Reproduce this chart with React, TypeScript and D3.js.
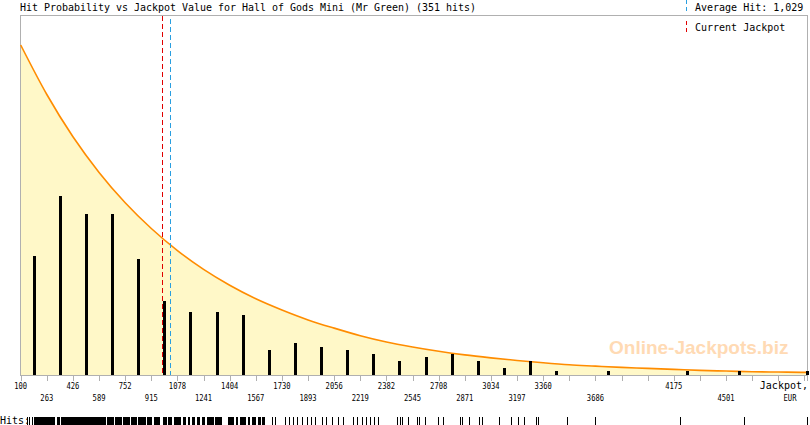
import React from 'react';
import * as d3 from 'd3';

// hits per jackpot bin (bin middle in EUR)
const binMids = [181, 344, 507, 670, 833, 996, 1159, 1322, 1485, 1648, 1811, 1974, 2137, 2300, 2463, 2626, 2789, 2952, 3115, 3278, 3441, 3767, 4256, 4582, 5003];
const binHits = [34, 51, 46, 46, 33, 21, 18, 18, 17, 7, 9, 8, 7, 6, 4, 5, 6, 4, 2, 4, 1, 1, 1, 1, 1];

// axis ticks
const tickValues = [100, 263, 426, 589, 752, 915, 1078, 1241, 1404, 1567, 1730, 1893, 2056, 2219, 2382, 2545, 2708, 2871, 3034, 3197, 3360, 3523, 3686, 3849, 4012, 4175, 4338, 4501, 4664, 4827, 4990];
const tickLabels = [100, 263, 426, 589, 752, 915, 1078, 1241, 1404, 1567, 1730, 1893, 2056, 2219, 2382, 2545, 2708, 2871, 3034, 3197, 3360, 3686, 4175, 4501];

// probability curve, read at the tick values
const curveX = [100, 263, 426, 589, 752, 915, 1078, 1241, 1404, 1567, 1730, 1893, 2056, 2219, 2382, 2545, 2708, 2871, 3034, 3197, 3360, 3523, 3686, 3849, 4012, 4175, 4338, 4501, 4664, 4827, 4990, 5006];
const curveP = [1.0, 0.85, 0.722, 0.614, 0.522, 0.444, 0.377, 0.32, 0.272, 0.231, 0.197, 0.167, 0.142, 0.119, 0.1, 0.085, 0.072, 0.061, 0.052, 0.044, 0.037, 0.031, 0.027, 0.023, 0.02, 0.017, 0.014, 0.012, 0.01, 0.009, 0.008, 0.0078];

// single hits and dense runs of hits on the rug
const rugHits = [139, 154, 169, 1668, 1687, 1749, 1774, 1799, 1824, 1855, 1886, 1911, 1936, 1980, 2005, 2042, 2080, 2111, 2173, 2198, 2229, 2254, 2279, 2304, 2329, 2449, 2468, 2480, 2518, 2574, 2586, 2624, 2705, 2736, 2842, 2854, 2898, 2960, 2979, 3085, 3160, 3204, 3242, 3317, 3330, 3511, 3686, 4216, 4616, 5003];
const rugRuns: [number, number][] = [
  [185, 314], [325, 341], [351, 632], [640, 682], [688, 732], [738, 782], [788, 826],
  [834, 882], [888, 920], [932, 969], [988, 1013], [1021, 1044], [1057, 1100], [1113, 1132],
  [1144, 1157], [1169, 1188], [1200, 1219], [1231, 1250], [1263, 1307], [1313, 1356],
  [1394, 1431], [1444, 1456], [1469, 1506], [1519, 1531], [1543, 1568], [1581, 1599], [1606, 1624],
];

const currentJackpot = 984;
const averageHit = 1029;
const totalHits = 351;

const mono = '"DejaVu Sans Mono", monospace';
const grey = '#b0b0b0';
const red = '#e00000';
const blue = '#2a9fe0';

const App: React.FC = () => {
  const width = 810;
  const height = 425;
  const left = 20;
  const right = 807;
  const top = 15;
  const bottom = 375;

  const x = d3.scaleLinear().domain([100, 5006]).range([left + 0.7, right]);
  const px = (v: number) => Math.round(x(v)) + 0.5; // crisp 1px lines
  const yHits = d3.scaleLinear().domain([0, 102.6]).range([bottom, top]);
  const yProb = d3.scaleLinear().domain([0, 1]).range([bottom, 45]);

  const pts: [number, number][] = curveX.map((v, i) => [v, curveP[i]]);
  const line = d3
    .line<[number, number]>()
    .x((d) => x(d[0]))
    .y((d) => yProb(d[1]))
    .curve(d3.curveMonotoneX);
  const area = d3
    .area<[number, number]>()
    .x((d) => x(d[0]))
    .y0(bottom)
    .y1((d) => yProb(d[1]))
    .curve(d3.curveMonotoneX);

  return (
    <div style={{ position: 'fixed', left: 0, top: 0 }}>
      <svg width={width} height={height} style={{ display: 'block', background: '#fff' }}>
        <path d={area(pts) ?? ''} fill="#fff8c8" />

        {/* frame */}
        <g stroke={grey} shapeRendering="crispEdges">
          <line x1={left} x2={right + 1} y1={top + 0.5} y2={top + 0.5} />
          <line x1={left + 0.5} x2={left + 0.5} y1={top} y2={bottom} />
          <line x1={right + 0.5} x2={right + 0.5} y1={top} y2={bottom} />
          <line x1={left} x2={right + 1} y1={bottom + 0.5} y2={bottom + 0.5} />
        </g>

        <text x={609} y={354} fontFamily='"Liberation Sans", Arial, sans-serif' fontWeight="bold" fontSize={19} fill="#ffdab4">
          Online-Jackpots.biz
        </text>

        <path d={line(pts) ?? ''} fill="none" stroke="#ff8c00" strokeWidth={1.6} />

        {binMids.map((v, i) => (
          <rect key={i} x={Math.round(x(v)) - 1} y={Math.round(yHits(binHits[i]))} width={3} height={bottom - Math.round(yHits(binHits[i]))} fill="#000" shapeRendering="crispEdges" />
        ))}

        <line x1={px(currentJackpot)} x2={px(currentJackpot)} y1={top + 1} y2={bottom} stroke={red} strokeDasharray="5,3" shapeRendering="crispEdges" />
        <line x1={px(averageHit)} x2={px(averageHit)} y1={top + 4} y2={bottom} stroke={blue} strokeDasharray="5,3" shapeRendering="crispEdges" />

        <g stroke={grey} shapeRendering="crispEdges">
          {tickValues.map((v) => (
            <line key={v} x1={px(v)} x2={px(v)} y1={bottom} y2={bottom + 6} />
          ))}
          <line x1={right + 0.5} x2={right + 0.5} y1={bottom} y2={bottom + 6} />
        </g>
        {tickLabels.map((v, i) => {
          const s = String(v);
          return (
            <text
              key={v}
              x={x(v)}
              y={389}
              dy={i % 2 === 0 ? 0 : 12}
              textAnchor="middle"
              fontFamily={mono}
              fontSize={9.5}
              textLength={s.length * 4.3}
              lengthAdjust="spacingAndGlyphs"
              fill="#000"
            >
              {s}
            </text>
          );
        })}
        <text x={808} y={389} textAnchor="end" fontFamily={mono} fontSize={10} fill="#000">
          Jackpot,
        </text>
        <text x={790} y={401} textAnchor="middle" fontFamily={mono} fontSize={9.5} textLength={13} lengthAdjust="spacingAndGlyphs" fill="#000">
          EUR
        </text>

        {/* title and legend */}
        <text x={20} y={11} fontFamily={mono} fontSize={10} textLength={456} lengthAdjust="spacingAndGlyphs" fill="#000">
          {`Hit Probability vs Jackpot Value for Hall of Gods Mini (Mr Green) (${totalHits} hits)`}
        </text>
        <line x1={686.5} x2={686.5} y1={0} y2={12} stroke={blue} strokeDasharray="4,3" shapeRendering="crispEdges" />
        <text x={695} y={11} fontFamily={mono} fontSize={10} fill="#000">
          {`Average Hit: ${d3.format(',')(averageHit)}`}
        </text>
        <line x1={686.5} x2={686.5} y1={21} y2={33} stroke={red} strokeDasharray="4,3" shapeRendering="crispEdges" />
        <text x={695} y={31} fontFamily={mono} fontSize={10} fill="#000">
          Current Jackpot
        </text>

        {/* rug of hits */}
        <text x={0} y={424} fontFamily={mono} fontSize={10} fill="#000">
          Hits:
        </text>
        <g fill="#000" shapeRendering="crispEdges">
          {rugRuns.map(([a, b], i) => (
            <rect key={'r' + i} x={Math.round(x(a))} y={417} width={Math.max(1, Math.round(x(b) - x(a)))} height={8} />
          ))}
          {rugHits.map((v, i) => (
            <rect key={'h' + i} x={Math.round(x(v))} y={417} width={1} height={8} />
          ))}
        </g>
      </svg>
    </div>
  );
};

export default App;
